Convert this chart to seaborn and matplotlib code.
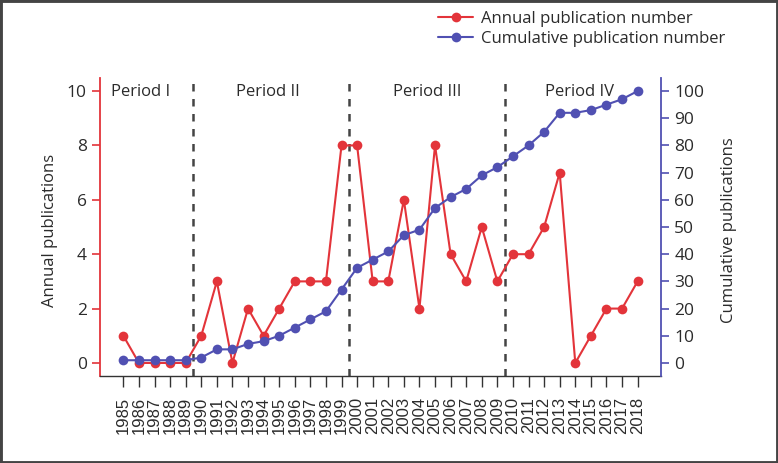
import matplotlib
matplotlib.use("Agg")
import matplotlib.pyplot as plt
from matplotlib.patches import Rectangle
import seaborn as sns
import pandas as pd

# datos
years = list(range(1985, 2019))
annual = [1, 0, 0, 0, 0, 1, 3, 0, 2, 1, 2, 3, 3, 3, 8, 8, 3, 3, 6, 2,
          8, 4, 3, 5, 3, 4, 4, 5, 7, 0, 1, 2, 2, 3]
cumulative = [1, 1, 1, 1, 1, 2, 5, 5, 7, 8, 10, 13, 16, 19, 27, 35, 38, 41, 47, 49,
              57, 61, 64, 69, 72, 76, 80, 85, 92, 92, 93, 95, 97, 100]
period_names = ["Period I", "Period II", "Period III", "Period IV"]
period_centers = [1986.1, 1994.3, 2004.5, 2014.3]
period_bounds = [1989.5, 1999.5, 2009.5]

RED = "#e3343a"
BLUE = "#5050b2"
TXT = "#2b2b2b"

sns.set_style("white")
plt.rcParams["font.family"] = ["Open Sans", "DejaVu Sans"]

df = pd.DataFrame({"year": years, "annual": annual, "cumulative": cumulative})

fig = plt.figure(figsize=(7.78, 4.63), dpi=100)
ax = fig.add_axes([0.1285, 0.1879, 0.7211, 0.6436])
ax2 = ax.twinx()

sns.lineplot(data=df, x="year", y="annual", ax=ax, color=RED, marker="o",
             markersize=7, markeredgewidth=0, linewidth=1.5,
             label="Annual publication number", legend=False)
sns.lineplot(data=df, x="year", y="cumulative", ax=ax2, color=BLUE, marker="o",
             markersize=7, markeredgewidth=0, linewidth=1.5,
             label="Cumulative publication number", legend=False)

ax.set_xlim(1983.5, 2019.5)
ax.set_ylim(-0.48, 10.48)
ax2.set_ylim(-4.8, 104.8)

ax.set_xticks(years)
ax.set_xticklabels([str(y) for y in years], rotation=90,
                   fontfamily="Liberation Sans", fontsize=12, color=TXT)
ax.set_yticks(range(0, 11, 2))
ax2.set_yticks(range(0, 101, 10))

for b in period_bounds:
    ax.axvline(b, color="#444444", linestyle=(0, (3, 3)), linewidth=1.8, zorder=0)
for name, c in zip(period_names, period_centers):
    ax.text(c, 9.95, name, ha="center", va="center", fontsize=12, color=TXT)

# ejes y colores
for a in (ax, ax2):
    for s in a.spines.values():
        s.set_visible(False)
ax.spines["left"].set_visible(True)
ax.spines["left"].set_color(RED)
ax.spines["left"].set_linewidth(1.3)
ax2.spines["right"].set_visible(True)
ax2.spines["right"].set_color(BLUE)
ax2.spines["right"].set_linewidth(1.3)
ax.spines["bottom"].set_visible(True)
ax.spines["bottom"].set_color("#333333")
ax.spines["bottom"].set_linewidth(1.0)

ax.tick_params(axis="y", colors=RED, labelcolor=TXT, labelsize=12.5,
               length=6, width=1.2, direction="out", left=True)
ax2.tick_params(axis="y", colors=BLUE, labelcolor=TXT, labelsize=12.5,
                length=6, width=1.2, direction="out", right=True)
ax.tick_params(axis="x", colors="#333333", labelcolor=TXT, length=8,
               width=1.0, direction="out", bottom=True, pad=7)

ax.set_xlabel("")
ax.set_ylabel("Annual publications", fontsize=12, color=TXT)
ax2.set_ylabel("Cumulative publications", fontsize=12, color=TXT)
ax.yaxis.set_label_coords(-0.074, 0.49)
ax2.yaxis.set_label_coords(1.107, 0.49)

h1, l1 = ax.get_legend_handles_labels()
h2, l2 = ax2.get_legend_handles_labels()
fig.legend(h1 + h2, l1 + l2, loc="upper left", bbox_to_anchor=(0.555, 0.99),
           frameon=False, fontsize=12, handlelength=2.1, handletextpad=0.45,
           labelspacing=0.2, labelcolor=TXT, borderaxespad=0)

fig.patches.append(Rectangle((0, 0), 1, 1, transform=fig.transFigure,
                             fill=False, edgecolor="#444444", linewidth=3.5))

fig.savefig("out.png", dpi=100)
plt.close(fig)
